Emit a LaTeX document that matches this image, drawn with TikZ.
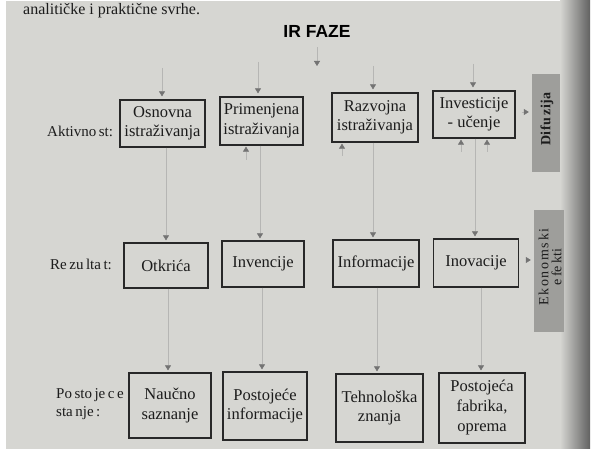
\documentclass[tikz,border=0pt]{standalone}
\usepackage{fontspec}
\setmainfont{Liberation Serif}
\setsansfont{Liberation Sans}
\usetikzlibrary{arrows.meta,calc}
\definecolor{pagec}{RGB}{214,214,210}
\definecolor{boxc}{RGB}{40,40,40}
\definecolor{txtc}{RGB}{28,28,28}
\definecolor{linec}{RGB}{182,182,180}
\definecolor{tipc}{RGB}{115,115,115}
\definecolor{barc}{RGB}{158,158,155}
\tikzset{
 box/.style={draw=boxc, line width=1.3pt, align=center, inner sep=0pt, text=txtc, font=\fontsize{16.5}{19.5}\selectfont},
 lbl/.style={text=txtc, font=\fontsize{15}{18}\selectfont, inner sep=0pt, align=left},
 conn/.style={draw=linec, line width=0.5pt, -{Triangle[width=6pt,length=5pt,color=tipc,fill=tipc]}, shorten >=2pt},
 bar/.style={fill=barc, inner sep=0pt},
}
\begin{document}
\begin{tikzpicture}[x=1pt,y=-1pt]
\useasboundingbox (0,0) rectangle (595,454);
\fill[white] (0,0) rectangle (595,454);
\fill[pagec] (6,1) rectangle (590,449);
\shade[left color=pagec, right color=black!62] (560,1) rectangle (590,449);
\node[anchor=base west, font=\fontsize{16}{18}\selectfont, text=txtc, inner sep=0pt] (toptext) at (23,15) {analitičke i praktične svrhe.};

% title
\node[font=\fontsize{17.5}{20}\selectfont\sffamily\bfseries, text=black, inner sep=2pt] (title) at (317,31) {IR FAZE};
\coordinate (fz) at (317,66);
\draw[conn, shorten >=0pt, shorten <=8pt] (title.south) -- (fz);

% side bars
\node[bar, minimum width=28pt, minimum height=98pt] (dif) at (546,123) {};
\node[rotate=90, font=\fontsize{14}{14}\selectfont\bfseries, text=txtc, inner sep=0pt] (diftxt) at (547,119) {\addfontfeature{LetterSpace=3}Difu\,zija};
\node[bar, minimum width=30pt, minimum height=122pt] (eko) at (549,271) {};
\node[rotate=90, align=center, font=\fontsize{14}{13}\selectfont, text=txtc, inner sep=0pt] (ekotxt) at (550,267) {\addfontfeature{LetterSpace=12}Ekonomski\\e\,fe\,kti};

% row labels
\node[lbl, anchor=west] (l1) at (47,131) {Aktivno\,st:};
\node[lbl, anchor=west] (l2) at (50,264) {Re\,zu\,lta\,t:};
\node[lbl, anchor=west] (l3) at (56,404) {Po\,sto\,je\,c\,e\\sta\,nje\,:};

% row 1
\node[box, minimum width=85pt, minimum height=47pt] (osn) at (162.5,123.5) {Osnovna\\istraživanja};
\node[box, minimum width=83pt, minimum height=48pt] (pri) at (261.5,121) {Primenjena\\istraživanja};
\node[box, minimum width=86pt, minimum height=49pt] (raz) at (375,117.5) {Razvojna\\istraživanja};
\node[box, minimum width=82pt, minimum height=47pt] (inv) at (474,114.5) {Investicije\\- učenje};

% row 2
\node[box, minimum width=84pt, minimum height=45pt] (otk) at (166,265.5) {Otkrića};
\node[box, minimum width=82pt, minimum height=46pt] (inc) at (263,264) {Invencije};
\node[box, minimum width=86pt, minimum height=47pt] (inf) at (376,263.5) {Informacije};
\node[box, minimum width=85pt, minimum height=48pt] (ino) at (476,263) {Inovacije};

% row 3
\node[box, minimum width=82pt, minimum height=65pt] (nau) at (170,405.5) {Naučno\\saznanje};
\node[box, minimum width=84pt, minimum height=68pt] (poi) at (265,406) {Postojeće\\informacije};
\node[box, minimum width=87pt, minimum height=68pt] (teh) at (379.5,408) {Tehnološka\\znanja};
\node[box, minimum width=86pt, minimum height=70pt, font=\fontsize{16.5}{20}\selectfont] (fab) at (482,408) {Postojeća\\fabrika,\\oprema};

% arrows into row 1 from above
\coordinate (a1) at (162,68);
\coordinate (a2) at (258,62);
\coordinate (a3) at (373,66);
\coordinate (a4) at (473,64);
\draw[conn, shorten >=3pt] (a1) -- (a1 |- osn.north);
\draw[conn, shorten >=3pt] (a2) -- (a2 |- pri.north);
\draw[conn, shorten >=3pt] (a3) -- (a3 |- raz.north);
\draw[conn, shorten >=3pt] (a4) -- (a4 |- inv.north);

% row 1 -> row 2
\coordinate (b1) at (166,0);
\coordinate (b2) at (260,0);
\coordinate (b3) at (373,0);
\coordinate (b4) at (475,0);
\draw[conn] (b1 |- osn.south) -- (b1 |- otk.north);
\draw[conn] (b2 |- pri.south) -- (b2 |- inc.north);
\draw[conn] (b3 |- raz.south) -- (b3 |- inf.north);
\draw[conn] (b4 |- inv.south) -- (b4 |- ino.north);

% row 2 -> row 3
\coordinate (c1) at (168,0);
\coordinate (c2) at (262,0);
\coordinate (c3) at (377,0);
\coordinate (c4) at (481,0);
\draw[conn] (c1 |- otk.south) -- (c1 |- nau.north);
\draw[conn] (c2 |- inc.south) -- (c2 |- poi.north);
\draw[conn] (c3 |- inf.south) -- (c3 |- teh.north);
\draw[conn] (c4 |- ino.south) -- (c4 |- fab.north);

% short upward arrows into row 1
\coordinate (u1) at (246,160);
\coordinate (u2) at (342,156);
\coordinate (u3) at (461,152);
\coordinate (u4) at (487,152);
\draw[conn, shorten >=1pt] (u1) -- (u1 |- pri.south);
\draw[conn, shorten >=1pt] (u2) -- (u2 |- raz.south);
\draw[conn, shorten >=1pt] (u3) -- (u3 |- inv.south);
\draw[conn, shorten >=1pt] (u4) -- (u4 |- inv.south);

% arrows to the side bars
\draw[conn, shorten >=3pt, shorten <=6pt] (inv.east |- 0,112) -- (dif.west |- 0,112);
\draw[conn, shorten >=3pt, shorten <=8pt] (ino.east |- 0,260) -- (eko.west |- 0,260);
\end{tikzpicture}
\end{document}
